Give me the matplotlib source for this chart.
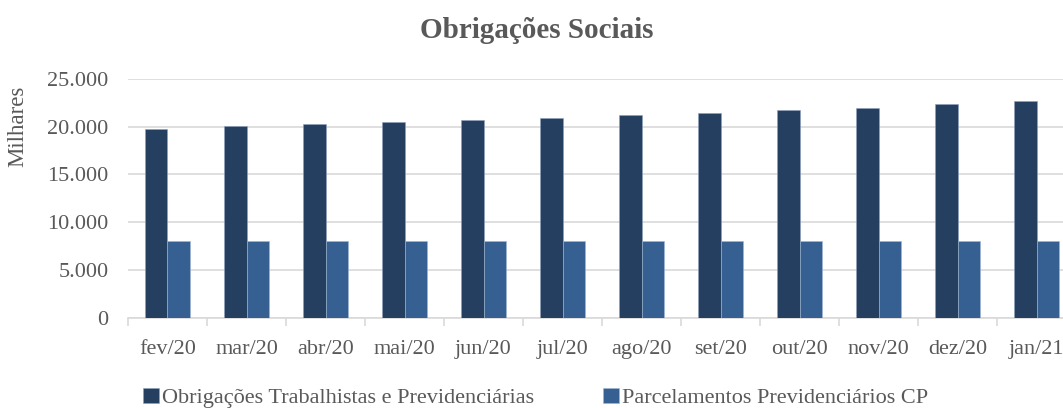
import matplotlib
matplotlib.use("Agg")
import matplotlib.pyplot as plt
import numpy as np

meses = ["fev/20", "mar/20", "abr/20", "mai/20", "jun/20", "jul/20",
         "ago/20", "set/20", "out/20", "nov/20", "dez/20", "jan/21"]
trabalhistas = [19730, 20040, 20250, 20490, 20670, 20940,
                21220, 21460, 21740, 21980, 22400, 22680]
parcelamentos = [8090, 8090, 8090, 8090, 8090, 8090,
                 8090, 8090, 8090, 8090, 8090, 8090]

cor_escura = "#243F60"
cor_clara = "#376092"
cinza = "#595959"

plt.rcParams['font.family'] = ['Liberation Serif', 'DejaVu Serif']

fig = plt.figure(figsize=(10.63, 4.08), dpi=100)
ax = fig.add_axes([0.1204, 0.2206, 0.892, 0.5866])

x = np.arange(len(meses))
w = 0.285
ax.bar(x - w / 2, trabalhistas, w, color=cor_escura, edgecolor="#8ea3bd",
       linewidth=0.4, label="Obrigações Trabalhistas e Previdenciárias", zorder=3)
ax.bar(x + w / 2, parcelamentos, w, color=cor_clara, edgecolor="#9fb6d3",
       linewidth=0.4, label="Parcelamentos Previdenciários CP", zorder=3)

ax.set_xlim(-0.5, len(meses) - 0.5)
ax.set_ylim(0, 25000)
ax.set_yticks(range(0, 25001, 5000))
ax.set_yticklabels(["0", "5.000", "10.000", "15.000", "20.000", "25.000"])
ax.set_xticks(x)
ax.set_xticklabels(meses)
ax.set_xticks(np.arange(-0.5, len(meses), 1), minor=True)

ax.grid(axis="y", color="#d9d9d9", linewidth=1.2, zorder=0)
for s in ["top", "right", "left"]:
    ax.spines[s].set_visible(False)
ax.spines["bottom"].set_color("#d9d9d9")
ax.spines["bottom"].set_linewidth(1.2)

ax.tick_params(axis="x", which="major", length=0, pad=16, labelsize=16, labelcolor=cinza)
ax.tick_params(axis="x", which="minor", length=6, color="#d9d9d9", width=1.2)
ax.tick_params(axis="y", length=0, pad=14, labelsize=16, labelcolor=cinza)

fig.text(0.505, 0.925, "Obrigações Sociais", ha="center", va="center",
         fontsize=21, fontweight="bold", color=cinza)
fig.text(0.017, 0.69, "Milhares", rotation=90, ha="center", va="center",
         fontsize=16.5, color=cinza)

leg = fig.legend(loc="center left", bbox_to_anchor=(0.116, 0.025), ncol=2,
                 frameon=False, prop=dict(family="Liberation Serif", size=16),
                 handlelength=0.7, handleheight=0.7,
                 handletextpad=0.15, columnspacing=3.1, labelcolor=cinza)

fig.savefig("out.png", dpi=100)
